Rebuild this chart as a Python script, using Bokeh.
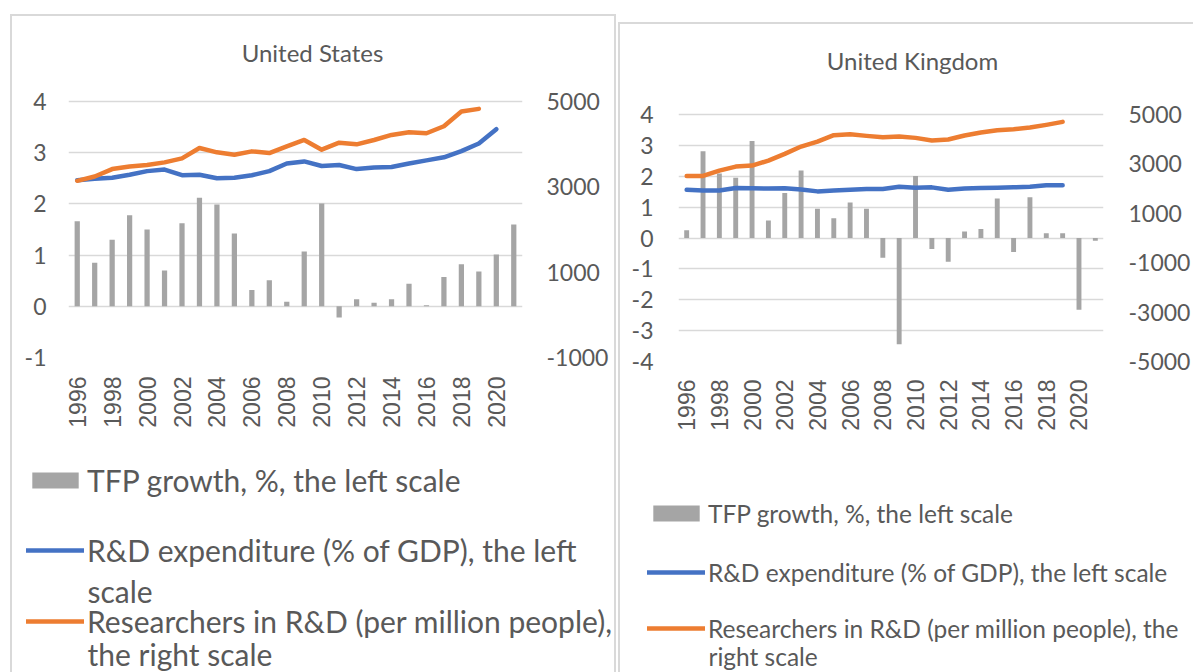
import math
from bokeh.plotting import figure
from bokeh.models import Range1d, LinearAxis, FixedTicker, Legend, LegendItem, Label
from bokeh.layouts import row, column
from bokeh.embed import file_html
from bokeh.resources import INLINE

# ---------------- data ----------------
years = [1996, 1997, 1998, 1999, 2000, 2001, 2002, 2003, 2004, 2005, 2006, 2007, 2008,
         2009, 2010, 2011, 2012, 2013, 2014, 2015, 2016, 2017, 2018, 2019, 2020, 2021]
year_ticks = [1996, 1998, 2000, 2002, 2004, 2006, 2008, 2010, 2012, 2014, 2016, 2018, 2020]

us_tfp = [1.66, 0.85, 1.30, 1.78, 1.50, 0.70, 1.62, 2.12, 1.99, 1.42, 0.32, 0.51, 0.09,
          1.07, 2.01, -0.22, 0.14, 0.07, 0.14, 0.44, 0.02, 0.57, 0.82, 0.68, 1.01, 1.60]
us_rd = [2.46, 2.49, 2.51, 2.57, 2.64, 2.67, 2.56, 2.57, 2.50, 2.51, 2.56, 2.64, 2.79,
         2.83, 2.74, 2.76, 2.68, 2.71, 2.72, 2.79, 2.85, 2.91, 3.03, 3.18, 3.46]
us_res = [3141, 3243, 3416, 3478, 3510, 3573, 3667, 3910, 3808, 3753, 3831, 3792, 3949,
          4098, 3871, 4035, 3996, 4098, 4216, 4278, 4255, 4420, 4765, 4827]

uk_tfp = [0.25, 2.81, 2.09, 1.95, 3.14, 0.57, 1.46, 2.19, 0.95, 0.64, 1.15, 0.95, -0.64,
          -3.44, 2.01, -0.36, -0.77, 0.21, 0.29, 1.28, -0.45, 1.32, 0.15, 0.15, -2.32, -0.09]
uk_rd = [1.56, 1.54, 1.54, 1.62, 1.61, 1.60, 1.61, 1.57, 1.51, 1.54, 1.56, 1.59, 1.59,
         1.66, 1.63, 1.64, 1.56, 1.60, 1.62, 1.63, 1.64, 1.66, 1.71, 1.71]
uk_res = [2514, 2514, 2730, 2892, 2933, 3135, 3405, 3703, 3905, 4162, 4203, 4135, 4081,
          4108, 4054, 3946, 3986, 4149, 4270, 4365, 4405, 4473, 4581, 4703]

us_left_ticks = [-1, 0, 1, 2, 3, 4]
us_right_ticks = [-1000, 1000, 3000, 5000]
uk_left_ticks = [-4, -3, -2, -1, 0, 1, 2, 3, 4]
uk_right_ticks = [-5000, -3000, -1000, 1000, 3000, 5000]

# legend texts (as wrapped in the reference)
us_legend_lines = [("bar", "TFP growth, %, the left scale"),
                   ("blue", "R&D expenditure (% of GDP), the left"),
                   (None, "scale"),
                   ("orange", "Researchers in R&D (per million people),"),
                   (None, "the right scale")]
uk_legend_lines = [("bar", "TFP growth, %, the left scale"),
                   ("blue", "R&D expenditure (% of GDP), the left scale"),
                   ("orange", "Researchers in R&D (per million people), the"),
                   (None, "right scale")]

# ---------------- style ----------------
TXT = "#595959"
GRID = "#d9d9d9"
BAR = "#a5a5a5"
BLUE = "#4472c4"
ORANGE = "#ed7d31"
FONT = "Lato"
BOX = {"box-shadow": "0 0 0 2px #d9d9d9"}


def make_chart(title, tfp, rd, res, lticks, rticks, ytop, rtop, width, height, borders,
               title_xy, left_std, right_std, x_std):
    bl, br, bb = borders
    p = figure(width=width, height=height, output_backend="svg", toolbar_location=None,
               x_range=Range1d(years[0] - 0.5, years[-1] + 0.5),
               y_range=Range1d(lticks[0], ytop),
               min_border_left=bl, min_border_right=br, min_border_top=0,
               min_border_bottom=bb, frame_align=False)
    p.extra_y_ranges = {"right": Range1d(rticks[0], rtop)}
    p.outline_line_color = None
    p.border_fill_color = "white"
    p.xgrid.grid_line_color = None
    p.ygrid.ticker = FixedTicker(ticks=lticks)
    p.ygrid.grid_line_color = GRID
    p.ygrid.grid_line_width = 1.5

    p.vbar(x=years, top=tfp, width=0.3, fill_color=BAR, line_color=None)
    p.line(x=years[:len(rd)], y=rd, line_color=BLUE, line_width=4.5,
           line_cap="round", line_join="round")
    p.line(x=years[:len(res)], y=res, y_range_name="right", line_color=ORANGE,
           line_width=4.5, line_cap="round", line_join="round")

    ya = p.yaxis[0]
    ya.ticker = FixedTicker(ticks=lticks)
    ya.major_label_overrides = {t: str(t) for t in lticks}
    ra = LinearAxis(y_range_name="right", ticker=FixedTicker(ticks=rticks))
    ra.major_label_overrides = {t: str(t) for t in rticks}
    p.add_layout(ra, "right")
    for ax, std in ((ya, left_std), (ra, right_std)):
        ax.axis_line_color = None
        ax.major_tick_line_color = None
        ax.minor_tick_line_color = None
        ax.major_tick_out = 0
        ax.major_label_standoff = std
        ax.major_label_text_font = FONT
        ax.major_label_text_font_size = "23px"
        ax.major_label_text_color = TXT

    xa = p.xaxis[0]
    xa.ticker = FixedTicker(ticks=year_ticks)
    xa.axis_line_color = None
    xa.major_tick_line_color = None
    xa.minor_tick_line_color = None
    xa.major_tick_out = 0
    xa.major_label_standoff = x_std
    xa.major_label_orientation = math.pi / 2
    xa.major_label_text_font = "Liberation Sans"
    xa.major_label_text_font_size = "23px"
    xa.major_label_text_color = TXT

    p.add_layout(Label(x=title_xy[0], y=title_xy[1], x_units="screen", y_units="screen",
                       text=title, text_align="center", text_baseline="middle",
                       text_font=FONT, text_font_size="24px", text_color=TXT))
    return p


def make_legend_fig(width, height, tfp, rd, res, lines, centers, glyph_x, font_size,
                    item_h):
    f = figure(width=width, height=height, output_backend="svg", toolbar_location=None,
               x_range=Range1d(0, 1), y_range=Range1d(0, 1),
               x_axis_location=None, y_axis_location=None,
               min_border_left=0, min_border_right=0, min_border_top=0,
               min_border_bottom=0, frame_align=False)
    f.grid.visible = False
    f.outline_line_color = None
    f.border_fill_color = "white"
    # legend glyph renderers (data lie outside this legend panel's ranges)
    rmap = {
        "bar": f.vbar(x=years, top=tfp, width=0.3, fill_color=BAR, line_color=None),
        "blue": f.line(x=years[:len(rd)], y=rd, line_color=BLUE, line_width=4.5,
                       line_cap="round"),
        "orange": f.line(x=years[:len(res)], y=res, line_color=ORANGE, line_width=4.5,
                         line_cap="round"),
    }
    for (key, text), cy in zip(lines, centers):
        if key is None:
            f.add_layout(Label(x=glyph_x + 61, y=height - cy, x_units="screen",
                               y_units="screen", text=text, text_align="left",
                               text_baseline="middle", text_font=FONT,
                               text_font_size=font_size, text_color=TXT))
        else:
            lg = Legend(items=[LegendItem(label=text, renderers=[rmap[key]])],
                        location=(glyph_x, height - cy - item_h / 2),
                        orientation="vertical", glyph_width=58, glyph_height=20,
                        label_standoff=3, padding=0, margin=0, spacing=0,
                        border_line_color=None, background_fill_alpha=0,
                        label_text_font=FONT, label_text_font_size=font_size,
                        label_text_color=TXT)
            f.add_layout(lg)
    return f


# United States  (legend panel top at page y 447)
p1 = make_chart("United States", us_tfp, us_rd, us_res, us_left_ticks, us_right_ticks,
                5.66, 6992, 602, 431, (56, 92, 90), (244, 305), 22, 24, 19)
l1 = make_legend_fig(602, 225, us_tfp, us_rd, us_res, us_legend_lines,
                     [33, 103, 143, 174, 206], 14, "30px", 36)
c1 = column(p1, l1, spacing=0)
c1.margin = (16, 0, 0, 12)
c1.styles = BOX

# United Kingdom  (legend panel top at page y 451)
p2 = make_chart("United Kingdom", uk_tfp, uk_rd, uk_res, uk_left_ticks, uk_right_ticks,
                6.915, 8644, 573, 427, (58, 85, 90), (234, 301), 25, 25, 18)
l2 = make_legend_fig(573, 221, uk_tfp, uk_rd, uk_res, uk_legend_lines,
                     [62, 121, 177, 205], 27, "24.5px", 29.4)
c2 = column(p2, l2, spacing=0)
c2.margin = (24, 0, 0, 6)
c2.styles = BOX

layout = row(c1, c2, spacing=0)

open("out.html", "w").write(file_html(layout, INLINE))
